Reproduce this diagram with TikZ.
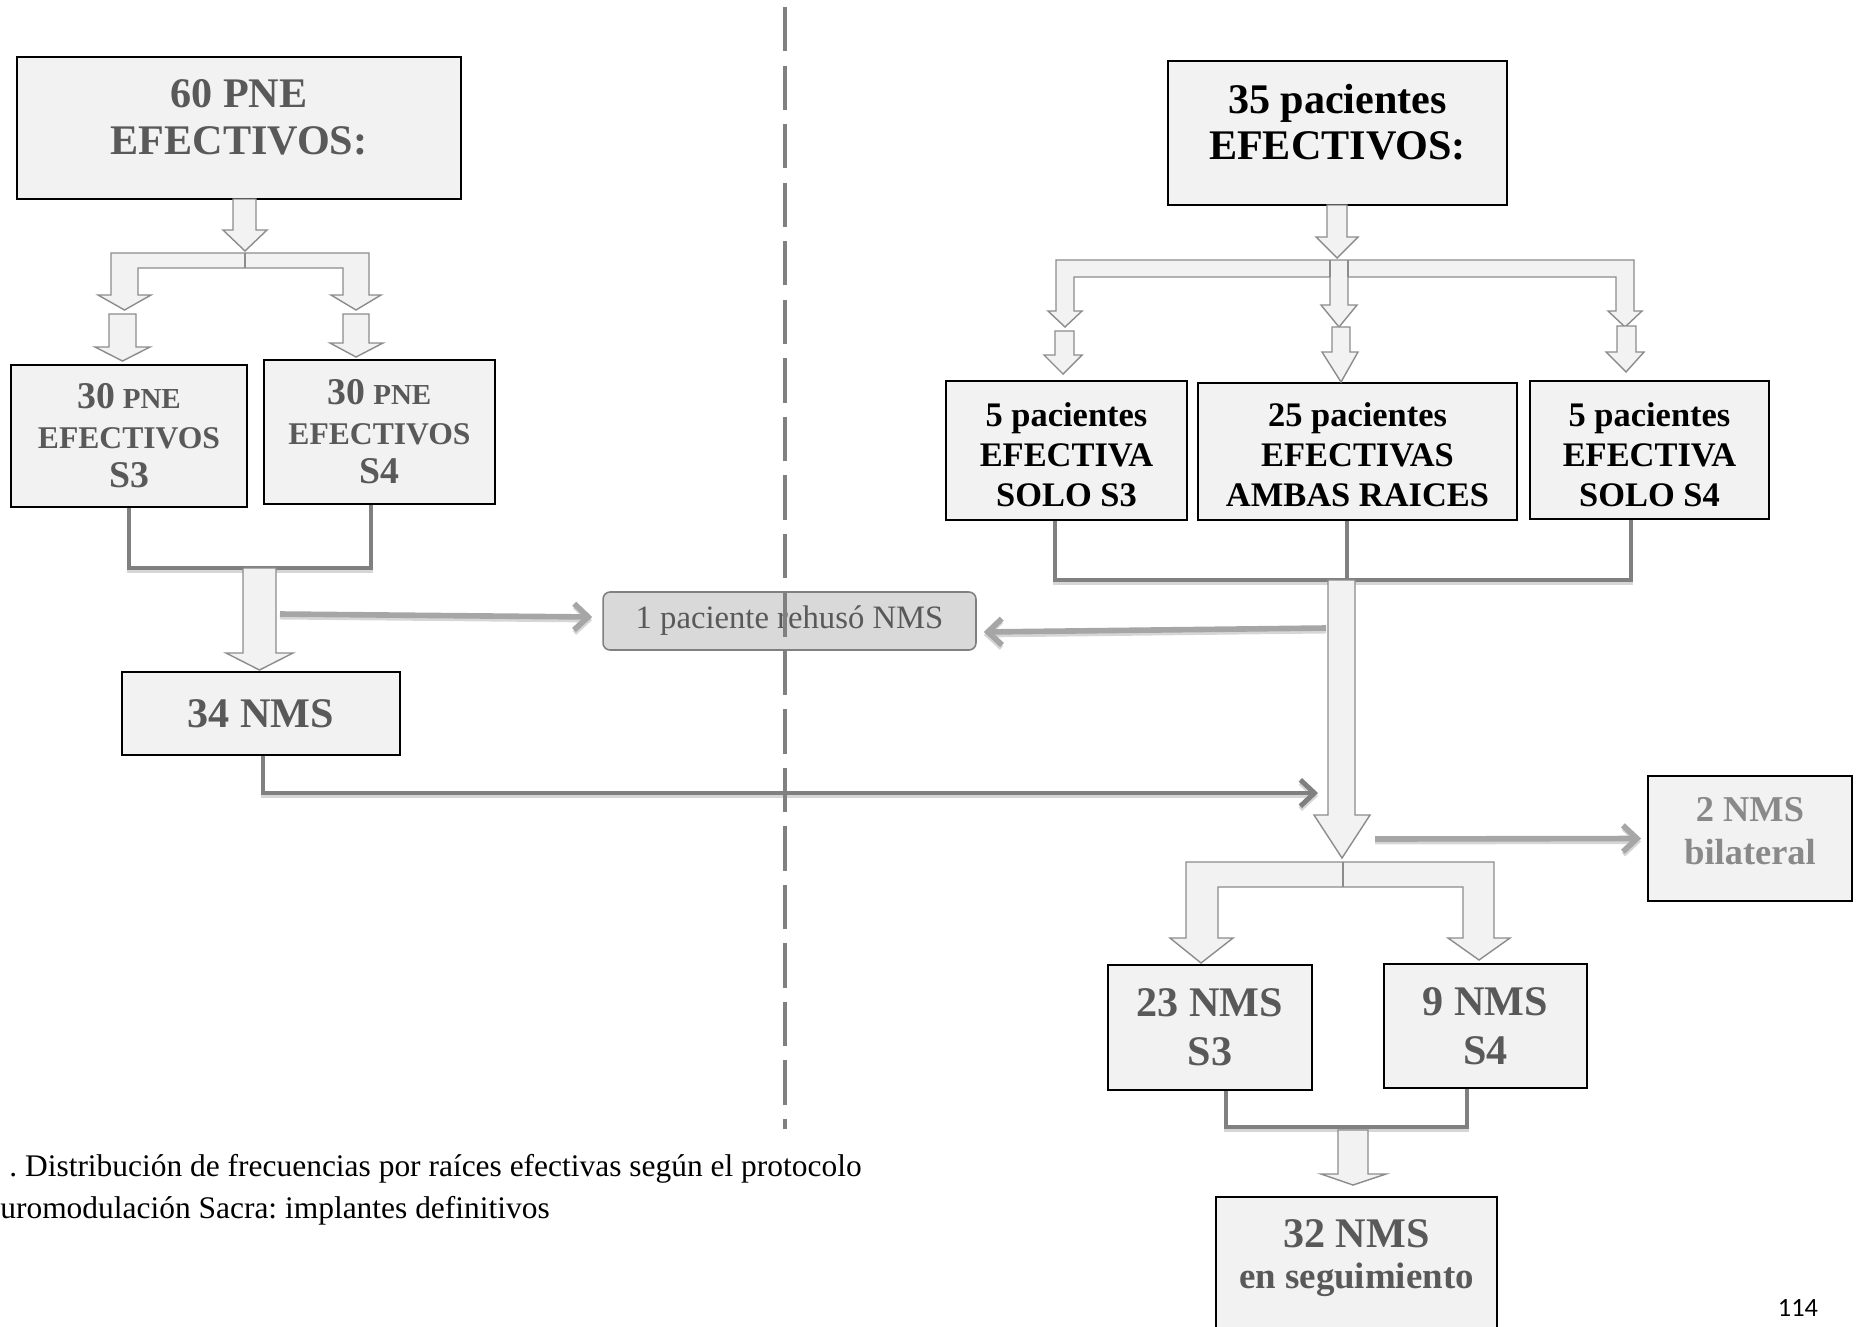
\documentclass[tikz,border=0pt]{standalone}
\usepackage{fontspec}
\setmainfont{Liberation Serif}
\newfontfamily\pagefont{Carlito}
\usetikzlibrary{arrows.meta}
\frenchspacing
\definecolor{boxfill}{HTML}{F2F2F2}
\definecolor{txtgray}{HTML}{595959}
\definecolor{paletxt}{HTML}{898989}
\definecolor{linegray}{HTML}{808080}
\definecolor{arrgray}{HTML}{A6A6A6}
\definecolor{shadegray}{HTML}{D6D6D6}
\definecolor{edgegray}{HTML}{8C8C8C}
\definecolor{refusefill}{HTML}{D9D9D9}

\begin{document}
\begin{tikzpicture}[x=0.02cm,y=-0.02cm,
 box/.style={draw=black,line width=1.1pt,fill=boxfill,inner sep=0pt,align=center},
 blockarr/.style={draw=edgegray,line width=0.8pt,fill=boxfill},
 bracket/.style={draw=linegray,line width=2.8pt},
 shade/.style={draw=shadegray,line width=2.8pt,transform canvas={yshift=-0.06cm}},
 pointer/.style={draw=arrgray,line width=3.2pt,-{Straight Barb[length=8pt,width=15pt]}},
 darkpointer/.style={draw=linegray,line width=2.8pt,-{Straight Barb[length=8pt,width=15pt]}},
 divider/.style={draw=linegray,line width=2.8pt,dash pattern=on 25.3pt off 8pt}]
\useasboundingbox (0,0) rectangle (1858,1326);
\clip (0,0) rectangle (1858,1326);

%left side
\node[box,minimum width=8.88cm,minimum height=2.84cm] (pne) at (239,128) {};
\node[align=center,text=txtgray,font=\bfseries\fontsize{24}{26.6}\selectfont] (pnetxt) at (239,117) {60 PNE\\EFECTIVOS:};
\node[box,minimum width=4.72cm,minimum height=2.84cm,text=txtgray,font=\bfseries\fontsize{18}{22.5}\selectfont] (pnes3) at (129,436)
 {{\fontsize{21.5}{22.5}\selectfont 30} {\fontsize{16.5}{22.5}\selectfont PNE}\\EFECTIVOS\\{\fontsize{21.5}{22.5}\selectfont S3}};
\node[box,minimum width=4.62cm,minimum height=2.88cm,text=txtgray,font=\bfseries\fontsize{18}{22.5}\selectfont] (pnes4) at (379.5,432)
 {{\fontsize{21.5}{22.5}\selectfont 30} {\fontsize{16.5}{22.5}\selectfont PNE}\\EFECTIVOS\\{\fontsize{21.5}{22.5}\selectfont S4}};
\node[box,minimum width=5.56cm,minimum height=1.66cm,text=txtgray,font=\bfseries\fontsize{24}{25}\selectfont] (nms34) at (261,713.5) {34 NMS};
\node[draw=linegray,line width=0.9pt,fill=refusefill,rounded corners=4pt,minimum width=7.46cm,minimum height=1.16cm,
 text=txtgray,font=\fontsize{18.6}{22}\selectfont] (refuse) at (789.5,621) {1 paciente rehusó NMS};

%right side
\node[box,minimum width=6.78cm,minimum height=2.88cm] (pac) at (1337.5,133) {};
\node[align=center,font=\bfseries\fontsize{24}{26.5}\selectfont] (pactxt) at (1337.5,122) {35 pacientes\\EFECTIVOS:};
\node[box,minimum width=4.82cm,minimum height=2.78cm] (solos3) at (1066.5,450.5) {};
\node[align=center,font=\bfseries\fontsize{19.6}{22.8}\selectfont] (solos3txt) at (1066.5,455) {5 pacientes\\EFECTIVA\\SOLO S3};
\node[box,minimum width=6.38cm,minimum height=2.74cm] (ambas) at (1357.5,451.5) {};
\node[align=center,font=\bfseries\fontsize{19.6}{22.8}\selectfont] (ambastxt) at (1357.5,455) {25 pacientes\\EFECTIVAS\\AMBAS RAICES};
\node[box,minimum width=4.78cm,minimum height=2.76cm] (solos4) at (1649.5,450) {};
\node[align=center,font=\bfseries\fontsize{19.6}{22.8}\selectfont] (solos4txt) at (1649.5,455) {5 pacientes\\EFECTIVA\\SOLO S4};
\node[box,minimum width=4.08cm,minimum height=2.5cm] (bilat) at (1750,838.5) {};
\node[align=center,text=paletxt,font=\bfseries\fontsize{20.7}{24.5}\selectfont] (bilattxt) at (1750,831) {2 NMS\\bilateral};
\node[box,minimum width=4.08cm,minimum height=2.5cm,text=txtgray,font=\bfseries\fontsize{24}{27.8}\selectfont] (nmss3) at (1210,1027.5) {23 NMS\\S3};
\node[box,minimum width=4.06cm,minimum height=2.48cm,text=txtgray,font=\bfseries\fontsize{24}{27.8}\selectfont] (nmss4) at (1485.5,1026) {9 NMS\\S4};
\node[box,minimum width=5.62cm,minimum height=2.84cm] (seg) at (1356.5,1268) {};
\node[align=center,text=txtgray,font=\bfseries\fontsize{24}{23.6}\selectfont] (segtxt) at (1356.5,1258)
 {32 NMS\\{\fontsize{21}{23.6}\selectfont en seguimiento}};

%brackets
\draw[shade] (pnes3.south) |- ([xshift=-0.17cm]pnes4.south |- 0,568) -- ([xshift=-0.17cm]pnes4.south);
\draw[bracket] (pnes3.south) |- ([xshift=-0.17cm]pnes4.south |- 0,568) -- ([xshift=-0.17cm]pnes4.south); %join S3 S4
\draw[shade] ([xshift=-0.23cm]solos3.south) |- ([xshift=-0.37cm]solos4.south |- 0,580) -- ([xshift=-0.37cm]solos4.south);
\draw[shade] ([xshift=-0.21cm]ambas.south) -- ++(0,60);
\draw[bracket] ([xshift=-0.23cm]solos3.south) |- ([xshift=-0.37cm]solos4.south |- 0,580) -- ([xshift=-0.37cm]solos4.south); %join three
\draw[bracket] ([xshift=-0.21cm]ambas.south) -- ([xshift=-0.21cm]ambas.south |- 0,580);
\draw[shade] ([xshift=0.32cm]nmss3.south) |- ([xshift=-0.37cm]nmss4.south |- 0,1127) -- ([xshift=-0.37cm]nmss4.south);
\draw[bracket] ([xshift=0.32cm]nmss3.south) |- ([xshift=-0.37cm]nmss4.south |- 0,1127) -- ([xshift=-0.37cm]nmss4.south); %join NMS

%block arrows left
\filldraw[blockarr] (233,199) -- (256,199) -- (256,230) -- (267,230) -- (245,251) -- (223,230) -- (233,230) -- cycle;
\filldraw[blockarr] (111,253) -- (369,253) -- (369,295) -- (381,295) -- (356,310) -- (331,295) -- (343,295) -- (343,268)
 -- (138,268) -- (138,295) -- (151,295) -- (124.5,310) -- (98,295) -- (111,295) -- cycle; %split
\draw[edgegray,line width=0.8pt] (245,253) -- (245,268);
\filldraw[blockarr] (109,314) -- (136,314) -- (136,347) -- (150,347) -- (122.5,361) -- (95,347) -- (109,347) -- cycle;
\filldraw[blockarr] (343,314) -- (369,314) -- (369,343) -- (383,343) -- (356,357) -- (330,343) -- (343,343) -- cycle;
\filldraw[blockarr] (243,568) -- (276,568) -- (276,653) -- (293,653) -- (259.5,670) -- (226,653) -- (243,653) -- cycle;

%block arrows right
\filldraw[blockarr] (1327,205) -- (1347,205) -- (1347,237) -- (1358,237) -- (1337,258) -- (1316,237) -- (1327,237) -- cycle;
\filldraw[blockarr] (1056,260) -- (1634,260) -- (1634,311) -- (1642,311) -- (1625,327) -- (1608,311) -- (1616,311) -- (1616,277)
 -- (1348,277) -- (1348,305) -- (1357,305) -- (1339,327) -- (1321,305) -- (1330,305) -- (1330,277)
 -- (1074,277) -- (1074,311) -- (1082,311) -- (1065,327) -- (1048,311) -- (1056,311) -- cycle; %split three
\draw[edgegray,line width=0.8pt] (1330,260) -- (1330,277) (1348,260) -- (1348,277);
\filldraw[blockarr] (1055,331) -- (1074,331) -- (1074,355) -- (1082,355) -- (1063,374) -- (1044,355) -- (1055,355) -- cycle;
\filldraw[blockarr] (1332,327) -- (1350,327) -- (1350,352) -- (1358,352) -- (1341,382) -- (1322,352) -- (1332,352) -- cycle;
\filldraw[blockarr] (1617,326) -- (1636,326) -- (1636,352) -- (1644,352) -- (1626,372) -- (1606,352) -- (1617,352) -- cycle;
\filldraw[blockarr] (1328,580) -- (1355,580) -- (1355,815) -- (1370,815) -- (1342,858) -- (1314,815) -- (1328,815) -- cycle;
\filldraw[blockarr] (1186,862) -- (1494,862) -- (1494,938) -- (1510,938) -- (1479,960) -- (1448,938) -- (1463,938) -- (1463,887)
 -- (1218,887) -- (1218,938) -- (1233,938) -- (1201,963) -- (1170,938) -- (1186,938) -- cycle; %split NMS
\draw[edgegray,line width=0.8pt] (1343,862) -- (1343,887);
\filldraw[blockarr] (1338,1130) -- (1368,1130) -- (1368,1174) -- (1386,1174) -- (1353,1185) -- (1321,1174) -- (1338,1174) -- cycle;

%pointers
\coordinate (leftout) at (280,614);
\coordinate (rightout) at (1326,628);
\coordinate (bilatout) at (1375,839);
\coordinate (joinin) at (1318,793);
\draw[shade,-{Straight Barb[length=8pt,width=15pt]}] (leftout) -- ([shift={(-10,-4)}]refuse.west);
\draw[pointer] (leftout) -- ([shift={(-10,-4)}]refuse.west);
\draw[shade,-{Straight Barb[length=8pt,width=15pt]}] (rightout) -- ([shift={(7,11)}]refuse.east);
\draw[pointer] (rightout) -- ([shift={(7,11)}]refuse.east);
\draw[shade,-{Straight Barb[length=8pt,width=15pt]}] (bilatout) -- ([xshift=-0.12cm]bilat.west);
\draw[pointer] (bilatout) -- ([xshift=-0.12cm]bilat.west);
\draw[shade,-{Straight Barb[length=8pt,width=15pt]}] ([xshift=0.04cm]nms34.south) |- (joinin);
\draw[darkpointer] ([xshift=0.04cm]nms34.south) |- (joinin); %34 NMS to the right

%dashed line
\draw[divider] (785,7) -- (785,1129);

%caption and page
\node[anchor=base west,inner sep=0pt,font=\fontsize{17.9}{20}\selectfont] (cap1) at (9,1176)
 {. Distribución de frecuencias por raíces efectivas según el protocolo};
\node[anchor=base west,inner sep=0pt,font=\fontsize{17.9}{20}\selectfont] (cap2) at (0,1218)
 {uromodulación Sacra: implantes definitivos};
\node[font=\pagefont\fontsize{15}{18}\selectfont] (pageno) at (1798,1308) {114};
\end{tikzpicture}
\end{document}
